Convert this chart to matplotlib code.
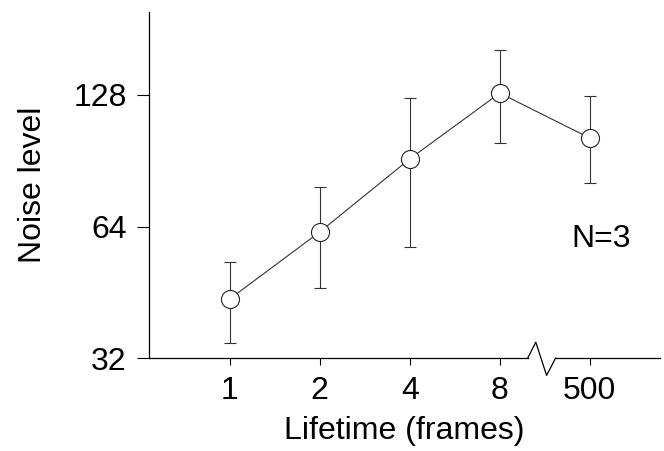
import matplotlib
matplotlib.use("Agg")
import matplotlib.pyplot as plt
from matplotlib.ticker import FixedLocator, NullLocator

plt.rcParams['font.family'] = ['Liberation Sans', 'DejaVu Sans']

lifetimes = ["1", "2", "4", "8", "500"]
noise = [43.7, 62.2, 91.4, 129.3, 102.0]
err_hi = [53.1, 78.8, 126.0, 162.0, 127.3]
err_lo = [34.6, 46.3, 57.4, 99.4, 80.5]
y_ticks = [32, 64, 128]

x = list(range(len(lifetimes)))
yerr = [[n - lo for n, lo in zip(noise, err_lo)],
        [hi - n for n, hi in zip(noise, err_hi)]]

fig = plt.figure(figsize=(6.64, 4.51), dpi=100)
ax = fig.add_axes([0.224, 0.206, 0.77, 0.767])

ax.errorbar(x, noise, yerr=yerr, color='#333333', lw=0.8, elinewidth=0.8,
            capsize=4, capthick=0.8, marker='o', ms=13, mfc='white',
            mec='#222222', mew=0.8, zorder=3)

ax.set_yscale('log', base=2)
ax.set_ylim(32, 198)
ax.set_xlim(-0.9, 4.78)
ax.yaxis.set_major_locator(FixedLocator(y_ticks))
ax.yaxis.set_minor_locator(NullLocator())
ax.set_yticklabels([str(t) for t in y_ticks])
ax.set_xticks(x)
ax.set_xticklabels(lifetimes)

for s in ['top', 'right', 'bottom']:
    ax.spines[s].set_visible(False)
ax.spines['left'].set_linewidth(0.9)
ax.tick_params(axis='y', length=9, width=0.8, labelsize=23, pad=7)
ax.tick_params(axis='x', length=5, width=0.8, labelsize=23, pad=8)

# bottom axis with break mark between 8 and 500
tr = ax.get_xaxis_transform()
ax.plot([-0.9, 3.31], [0, 0], color='black', lw=0.9, transform=tr, clip_on=False)
ax.plot([3.31, 3.4, 3.52, 3.62], [0, 0.046, -0.05, 0], color='black', lw=0.9,
        transform=tr, clip_on=False)
ax.plot([3.62, 4.78], [0, 0], color='black', lw=0.9, transform=tr, clip_on=False)

ax.text(4.13, 60, "N=3", fontsize=23, ha='center', va='center')

ax.set_xlabel("Lifetime (frames)", fontsize=23, labelpad=7)
ax.set_ylabel("Noise level", fontsize=23, labelpad=18)

fig.savefig("out.png", dpi=100)
